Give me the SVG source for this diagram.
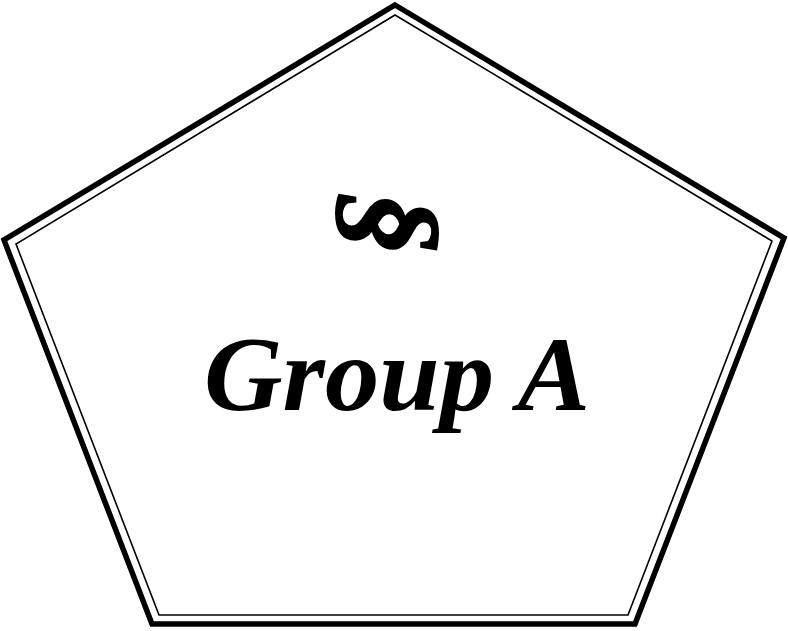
<svg xmlns="http://www.w3.org/2000/svg" width="788" height="631" viewBox="0 0 788 631">
<style>
.outer{fill:none;stroke:#000;stroke-width:5.5;stroke-linejoin:miter}
.inner{fill:none;stroke:#000;stroke-width:1.6;stroke-linejoin:miter}
.lbl{font-family:"Liberation Serif",serif;font-weight:bold;font-style:italic;fill:#000}
</style>
<rect width="788" height="631" fill="#fff"/>
<g id="pentagon">
<polygon class="outer" points="395,5 784,238 635,624 152,624 4,240"/>
<polygon class="inner" points="395,15 772,241 628,615 159,615 16,244"/>
</g>
<g id="label">
<text class="lbl" x="394" y="224" font-size="126" text-anchor="middle" transform="rotate(90 394 224)" dominant-baseline="central" stroke="#000" stroke-width="2">§</text>
<text class="lbl" x="204" y="410" font-size="106" textLength="386" lengthAdjust="spacingAndGlyphs">Group A</text>
</g>
</svg>
